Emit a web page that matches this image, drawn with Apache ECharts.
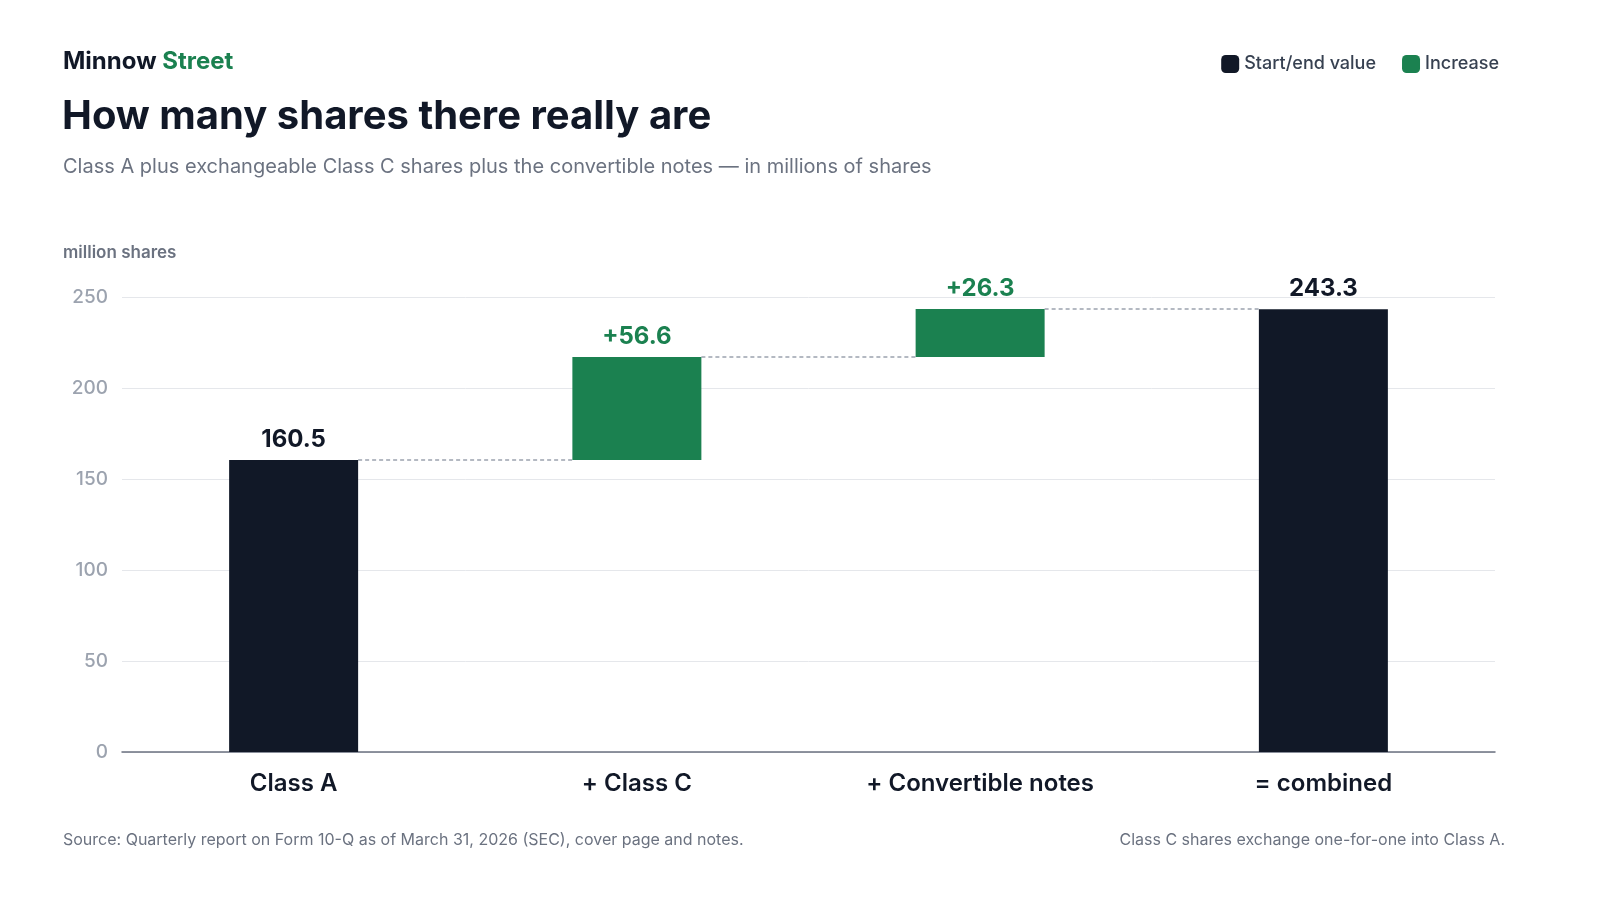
<!DOCTYPE html>
<html>
<head>
<meta charset="utf-8">
<script src="https://cdn.jsdelivr.net/npm/echarts@6/dist/echarts.min.js"></script>
<style>html,body{margin:0;padding:0;background:#fff}#chart{width:1600px;height:900px}</style>
</head>
<body>
<div id="chart"></div>
<script>
// data
const categories = ['Class A', '+ Class C', '+ Convertible notes', '= combined'];
const baseValues = [0, 160.5, 217.1, 0];
const totalValues = [160.5, '-', '-', 243.3];
const increaseValues = ['-', 56.6, 26.3, '-'];
const labelTexts = ['160.5', '+56.6', '+26.3', '243.3'];
const yTicks = [0, 50, 100, 150, 200, 250];

const dark = '#111827', green = '#1b8150';
const tops = categories.map((c, i) => baseValues[i] + (typeof totalValues[i] === 'number' ? totalValues[i] : increaseValues[i]));

const chart = echarts.init(document.getElementById('chart'));
chart.setOption({
  textStyle: { fontFamily: 'Inter' },
  graphic: [
    { type: 'text', left: 63, top: 50, style: { rich: { a: { fill: dark, fontSize: 24, fontWeight: 'bold', fontFamily: 'Inter' }, b: { fill: green, fontSize: 24, fontWeight: 'bold', fontFamily: 'Inter' } }, text: '{a|Minnow }{b|Street}' } },
    { type: 'text', left: 62, top: 97, style: { text: 'How many shares there really are', fill: dark, fontSize: 40, fontWeight: 'bold', fontFamily: 'Inter' } },
    { type: 'text', left: 63, top: 157, style: { text: 'Class A plus exchangeable Class C shares plus the convertible notes — in millions of shares', fill: '#6b7280', fontSize: 20, fontFamily: 'Inter' } },
    { type: 'text', left: 63, top: 244, style: { text: 'million shares', fill: '#6b7280', fontSize: 17, fontWeight: 600, fontFamily: 'Inter' } },
    { type: 'text', left: 63, top: 832, style: { text: 'Source: Quarterly report on Form 10-Q as of March 31, 2026 (SEC), cover page and notes.', fill: '#6b7280', fontSize: 16, fontFamily: 'Inter' } },
    { type: 'text', right: 95, top: 832, style: { text: 'Class C shares exchange one-for-one into Class A.', fill: '#6b7280', fontSize: 16, fontFamily: 'Inter', align: 'right' } }
  ],
  legend: {
    top: 50, right: 96, itemWidth: 18, itemHeight: 18, itemGap: 26,
    icon: 'roundRect',
    textStyle: { color: '#374151', fontSize: 18, fontWeight: 500, fontFamily: 'Inter' },
    data: ['Start/end value', 'Increase']
  },
  grid: { left: 122, right: 105, top: 297, bottom: 148 },
  xAxis: {
    type: 'category', data: categories,
    axisLine: { lineStyle: { color: '#6b7280', width: 1.5 } },
    axisTick: { show: false },
    axisLabel: { color: dark, fontSize: 24, fontWeight: 600, margin: 20, fontFamily: 'Inter' }
  },
  yAxis: {
    type: 'value', min: 0, max: 250, interval: 50,
    axisLine: { show: false }, axisTick: { show: false },
    splitLine: { lineStyle: { color: '#e5e7eb' } },
    axisLabel: { color: '#9ca3af', fontSize: 19, fontWeight: 500, margin: 14, fontFamily: 'Inter' }
  },
  series: [
    { type: 'bar', stack: 'w', barWidth: 129, itemStyle: { color: 'transparent' }, data: baseValues, silent: true },
    { name: 'Start/end value', type: 'bar', stack: 'w', itemStyle: { color: dark }, data: totalValues,
      label: { show: true, position: 'top', distance: 8, color: dark, fontSize: 24, fontWeight: 'bold', fontFamily: 'Inter', formatter: p => labelTexts[p.dataIndex] } },
    { name: 'Increase', type: 'bar', stack: 'w', itemStyle: { color: green }, data: increaseValues,
      label: { show: true, position: 'top', distance: 8, color: green, fontSize: 24, fontWeight: 'bold', fontFamily: 'Inter', formatter: p => labelTexts[p.dataIndex] } },
    { type: 'custom', silent: true, z: 1,
      data: tops.slice(0, -1).map((t, i) => [i, t]),
      renderItem: (params, api) => {
        const i = api.value(0), v = api.value(1);
        const p1 = api.coord([i, v]), p2 = api.coord([i + 1, v]);
        const half = 129 / 2;
        return { type: 'line', shape: { x1: p1[0] + half, y1: p1[1], x2: p2[0] - half, y2: p2[1] },
          style: { stroke: '#9ca3af', lineWidth: 1.5, lineDash: [4, 3] } };
      } }
  ]
});
</script>
</body>
</html>
